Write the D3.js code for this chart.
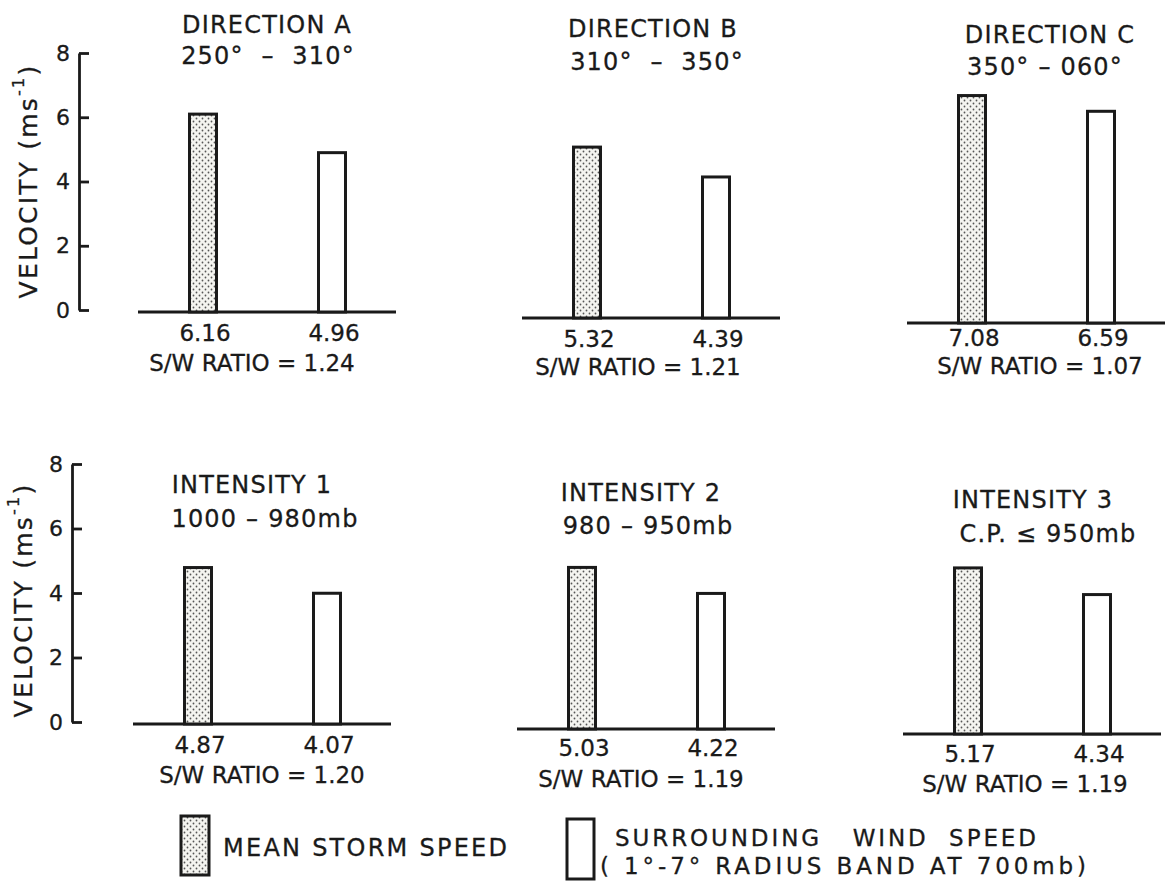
<!DOCTYPE html>
<html>
<head>
<meta charset="utf-8">
<script src="https://cdn.jsdelivr.net/npm/d3@7"></script>
<style>
  html, body { margin: 0; padding: 0; background: #fff; }
  svg { display: block; }
  text { font-family: "DejaVu Sans", "Liberation Sans", sans-serif; fill: #1a1a1a; white-space: pre;
         stroke: #1a1a1a; stroke-width: 0.3px; }
  .title { font-size: 24px; letter-spacing: 1.2px; }
  .val { font-size: 23px; }
  .ratio { font-size: 23px; }
  .tick text { font-size: 22px; }
  .ylab { font-size: 25px; letter-spacing: 2.2px; }
  .leg { font-size: 23px; }
</style>
</head>
<body>
<svg id="chart" width="1166" height="882"></svg>
<script>
// ---------- data ----------
const panelTitles = ["DIRECTION A", "DIRECTION B", "DIRECTION C", "INTENSITY 1", "INTENSITY 2", "INTENSITY 3"];
const panelRanges = ["250°  –  310°", "310°  –  350°", "350° – 060°", "1000 – 980mb", "980 – 950mb", "C.P. ≤ 950mb"];
const stormSpeed = [6.16, 5.32, 7.08, 4.87, 5.03, 5.17];
const windSpeed  = [4.96, 4.39, 6.59, 4.07, 4.22, 4.34];
const swRatio    = [1.24, 1.21, 1.07, 1.20, 1.19, 1.19];
const yTicks = [0, 2, 4, 6, 8];
const seriesKeys = ["storm", "wind"];
const legendStorm = "MEAN STORM SPEED";
const legendWind = ["SURROUNDING   WIND  SPEED", "( 1°-7° RADIUS BAND AT 700mb)"];
const yLabel = "VELOCITY (ms";
const yLabelSup = "-1";

// ---------- layout (positions only) ----------
const layout = [
  {x0: 138, base: 312, tx: 267,  ty: 33,  sx: 268,  sy: 64,  vy: 341, rx: 252,  ry: 371},
  {x0: 522, base: 318, tx: 653,  ty: 37,  sx: 657,  sy: 70,  vy: 347, rx: 638,  ry: 375},
  {x0: 907, base: 323, tx: 1050, ty: 43,  sx: 1045, sy: 75,  vy: 346, rx: 1040, ry: 374},
  {x0: 133, base: 724, tx: 252,  ty: 493, sx: 265,  sy: 527, vy: 753, rx: 262,  ry: 783},
  {x0: 517, base: 729, tx: 641,  ty: 501, sx: 648,  sy: 534, vy: 756, rx: 641,  ry: 787},
  {x0: 903, base: 734, tx: 1033, ty: 508, sx: 1048, sy: 542, vy: 762, rx: 1025, ry: 792}
];
const axes = [
  {x: 79, y0: 310, y8: 53, lx: 28, ly: 181},
  {x: 72, y0: 722, y8: 464, lx: 23, ly: 600}
];
const barW = 27, panelLen = 258, axisPx = 257;
const ink = "#1a1a1a";

const svg = d3.select("#chart");

// stipple pattern
const defs = svg.append("defs");
const pat = defs.append("pattern")
  .attr("id", "stipple").attr("patternUnits", "userSpaceOnUse")
  .attr("width", 6).attr("height", 6);
pat.append("rect").attr("width", 6).attr("height", 6).attr("fill", "#f4f4f0");
pat.append("circle").attr("cx", 1.5).attr("cy", 1.5).attr("r", 0.9).attr("fill", "#555");
pat.append("circle").attr("cx", 4.5).attr("cy", 4.5).attr("r", 0.9).attr("fill", "#555");

// ---------- y axes ----------
axes.forEach(a => {
  const ys = d3.scaleLinear().domain([0, 8]).range([a.y0, a.y8]);
  const g = svg.append("g").attr("transform", `translate(${a.x},0)`)
    .call(d3.axisLeft(ys).tickValues(yTicks).tickFormat(d3.format("d"))
      .tickSizeInner(-10).tickSizeOuter(0).tickPadding(9));
  g.attr("font-family", null).attr("font-size", null);
  g.select(".domain").attr("stroke", ink).attr("stroke-width", 2.8);
  g.selectAll(".tick line").attr("stroke", ink).attr("stroke-width", 2.8);
  g.selectAll(".tick text").attr("fill", ink);
  const t = svg.append("text").attr("class", "ylab")
    .attr("transform", `translate(${a.lx},${a.ly}) rotate(-90)`)
    .attr("text-anchor", "middle").attr("dominant-baseline", "central");
  t.append("tspan").text(yLabel);
  t.append("tspan").text(yLabelSup).attr("font-size", "16px").attr("dy", -10);
  t.append("tspan").text(")").attr("dy", 10);
});

// ---------- panels ----------
layout.forEach((L, i) => {
  const g = svg.append("g");
  const x = d3.scalePoint().domain(seriesKeys).range([L.x0 + 65, L.x0 + 194]);
  const y = d3.scaleLinear().domain([0, 8]).range([L.base, L.base - axisPx]);
  const vals = {storm: stormSpeed[i], wind: windSpeed[i]};

  // baseline
  g.append("line")
    .attr("x1", L.x0).attr("x2", Math.min(L.x0 + panelLen, 1166))
    .attr("y1", y(0)).attr("y2", y(0))
    .attr("stroke", ink).attr("stroke-width", 2.8);

  // bars
  g.selectAll("rect.bar").data(seriesKeys).join("rect")
    .attr("class", "bar")
    .attr("x", k => x(k) - barW / 2)
    .attr("width", barW)
    .attr("y", k => y(vals[k]))
    .attr("height", k => y(0) - y(vals[k]))
    .attr("fill", k => k === "storm" ? "url(#stipple)" : "#fff")
    .attr("stroke", ink).attr("stroke-width", 3);

  // value labels
  g.selectAll("text.val").data(seriesKeys).join("text")
    .attr("class", "val")
    .attr("x", k => x(k) + 2).attr("y", L.vy)
    .attr("text-anchor", "middle")
    .text(k => d3.format(".2f")(vals[k]));

  // ratio
  g.append("text").attr("class", "ratio")
    .attr("x", L.rx).attr("y", L.ry).attr("text-anchor", "middle")
    .text("S/W RATIO = " + d3.format(".2f")(swRatio[i]));

  // titles
  g.append("text").attr("class", "title")
    .attr("x", L.tx).attr("y", L.ty).attr("text-anchor", "middle")
    .text(panelTitles[i]);
  g.append("text").attr("class", "title")
    .attr("x", L.sx).attr("y", L.sy).attr("text-anchor", "middle")
    .text(panelRanges[i]);
});

// ---------- legend ----------
const lg = svg.append("g");
lg.append("rect").attr("x", 181).attr("y", 816).attr("width", 28).attr("height", 59)
  .attr("fill", "url(#stipple)").attr("stroke", ink).attr("stroke-width", 3);
lg.append("text").attr("class", "leg").attr("x", 223).attr("y", 856)
  .style("font-size", "24px")
  .attr("textLength", 284).attr("lengthAdjust", "spacing").text(legendStorm);
lg.append("rect").attr("x", 567).attr("y", 819).attr("width", 27).attr("height", 60)
  .attr("fill", "#fff").attr("stroke", ink).attr("stroke-width", 3);
lg.append("text").attr("class", "leg").attr("x", 615).attr("y", 846)
  .attr("textLength", 421).attr("lengthAdjust", "spacing").text(legendWind[0]);
lg.append("text").attr("class", "leg").attr("x", 600).attr("y", 874)
  .attr("textLength", 486).attr("lengthAdjust", "spacing").text(legendWind[1]);
</script>
</body>
</html>
